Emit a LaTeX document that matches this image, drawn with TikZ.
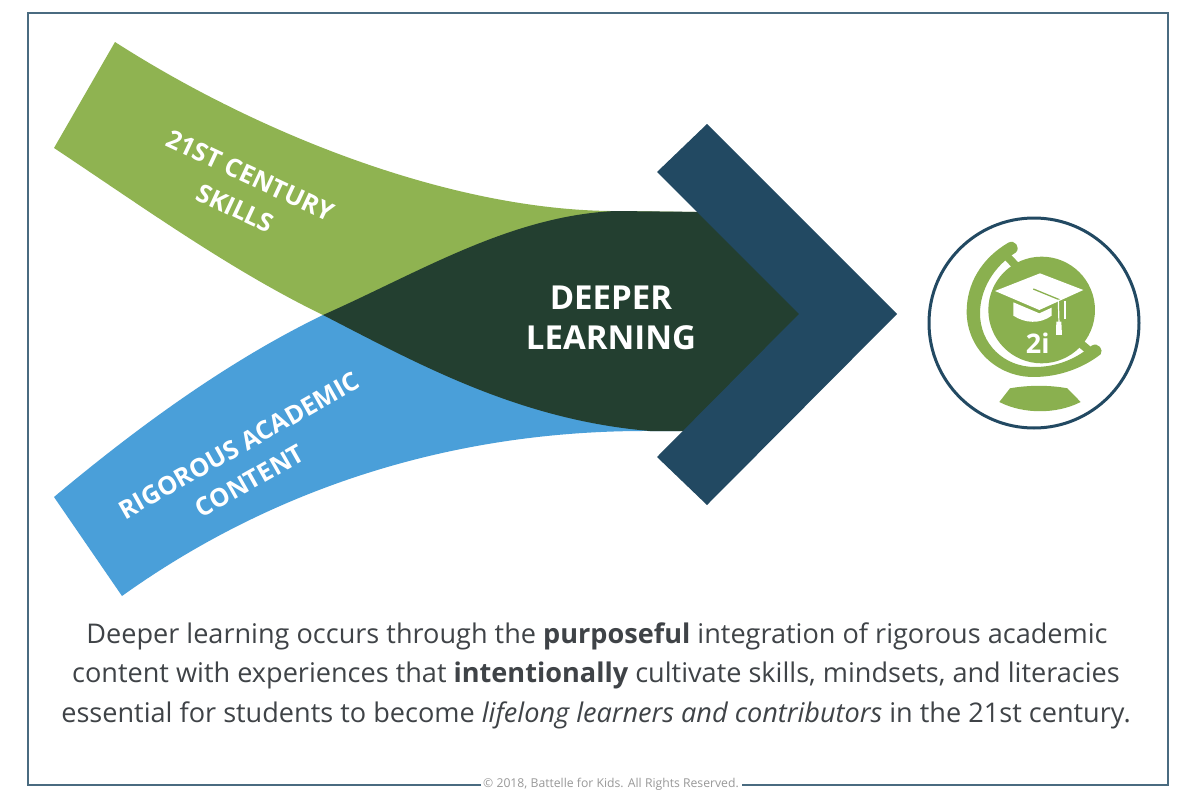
\documentclass[tikz,border=0pt]{standalone}
\usepackage{fontspec}
\setmainfont{Open Sans}
\definecolor{grn}{HTML}{8FB351}
\definecolor{blu}{HTML}{4A9FD9}
\definecolor{drk}{HTML}{233F30}
\definecolor{nvy}{HTML}{224962}
\definecolor{frm}{HTML}{4A6B80}
\definecolor{txt}{HTML}{3F4347}
\definecolor{glb}{HTML}{8AB04F}
\tikzset{
  bandtext/.style={text=white,font=\bfseries\fontsize{25.3}{36}\selectfont,align=center,inner sep=0pt},
  body/.style={text=txt,inner sep=0pt,font=\fontsize{27.1}{39}\selectfont,anchor=center},
}
\begin{document}
\begin{tikzpicture}[x=1pt,y=-1pt]
\useasboundingbox (0,0) rectangle (1200,806);
\fill[white] (0,0) rectangle (1200,806);
% frame
\coordinate (fa) at (481,785);
\coordinate (fb) at (742,785);
\draw[frm,line width=1.5pt] (fa) -- (28,785) -- (28,13) -- (1168,13) -- (1168,785) -- (fb);
% bands
\fill[grn] (115,42) .. controls (260,135) and (450,209) .. (610,211) -- (695,212) -- (700,300) -- (323,315) .. controls (230,270) and (140,205) .. (54,148) -- cycle;
\fill[blu] (54,497) .. controls (140,425) and (230,360) .. (323,315) -- (700,340) -- (680,431) -- (650,431) .. controls (450,430) and (270,490) .. (122,596) -- cycle;
\fill[drk] (323,315) .. controls (420,272) and (510,216) .. (615,211) -- (705,212) -- (806,314) -- (690,431) -- (650,431) .. controls (520,420) and (420,365) .. (323,315) -- cycle;
% chevron
\fill[nvy] (707,124) -- (897,314) -- (707,505) -- (657,457) -- (799,314) -- (657,172) -- cycle;
% texts
\node[bandtext,rotate=-25] (skills) at (243,192) {21ST CENTURY\\SKILLS};
\node[bandtext,rotate=29.5] (content) at (248,461) {RIGOROUS ACADEMIC\\CONTENT\hspace*{16pt}};
\node[text=white,font=\bfseries\fontsize{33}{40}\selectfont,align=center,inner sep=0pt] (deeper) at (611,318) {DEEPER\\LEARNING};
% globe
\draw[nvy,line width=3pt,fill=white] (1034,323) circle (105);
\begin{scope}[shift={(950,225)},x=0.3333pt,y=-0.3333pt]
  \fill[glb] (175,53) .. controls (95,100) and (50,175) .. (50,260)
     .. controls (50,370) and (140,456) .. (250,456)
     .. controls (330,456) and (400,428) .. (452,388)
     .. controls (462,375) and (445,350) .. (425,362)
     .. controls (375,405) and (315,426) .. (255,426)
     .. controls (160,426) and (90,355) .. (90,265)
     .. controls (90,195) and (130,125) .. (198,82)
     .. controls (212,68) and (195,42) .. (175,53) -- cycle;
  \draw[glb,line width=8pt] (172,95) -- (205,130);
  \draw[glb,line width=8pt] (415,375) -- (380,345);
  \fill[glb] (275,255) circle (160);
  % cap
  \fill[white] (135,198) -- (270,145) -- (400,195) -- (268,255) -- cycle;
  \fill[white] (190,232) -- (268,265) -- (305,248) -- (305,272) .. controls (270,298) and (225,295) .. (190,272) -- cycle;
  \draw[glb,line width=1.3pt] (250,192) -- (328,224);
  \draw[white,line width=1.2pt] (325,224) -- (327,295);
  \fill[white] (319,290) -- (334,290) -- (336,330) -- (318,330) -- cycle;
  \draw[white,line width=2pt] (345,228) -- (345,282);
  \node[text=white,font=\bfseries\fontsize{27}{27}\selectfont,inner sep=0pt] (two) at (263,356) {2i};
  % base
  \fill[glb] (180,490) .. controls (235,480) and (300,480) .. (352,490) -- (392,531) .. controls (320,568) and (220,568) .. (148,531) -- cycle;
\end{scope}
\node[body] (l1) at (597,636.5) {Deeper learning occurs through the \textbf{purposeful} integration of rigorous academic};
\node[body] (l2) at (596,675.5) {content with experiences that \textbf{intentionally} cultivate skills, mindsets, and literacies};
\node[body] (l3) at (596,715.5) {essential for students to become \textit{lifelong learners and contributors} in the 21st century.};
\node[text=gray!80,font=\fontsize{12.2}{14}\selectfont,inner sep=0pt] (copy) at (611,784) {© 2018, Battelle for Kids. All Rights Reserved.};
\end{tikzpicture}
\end{document}
